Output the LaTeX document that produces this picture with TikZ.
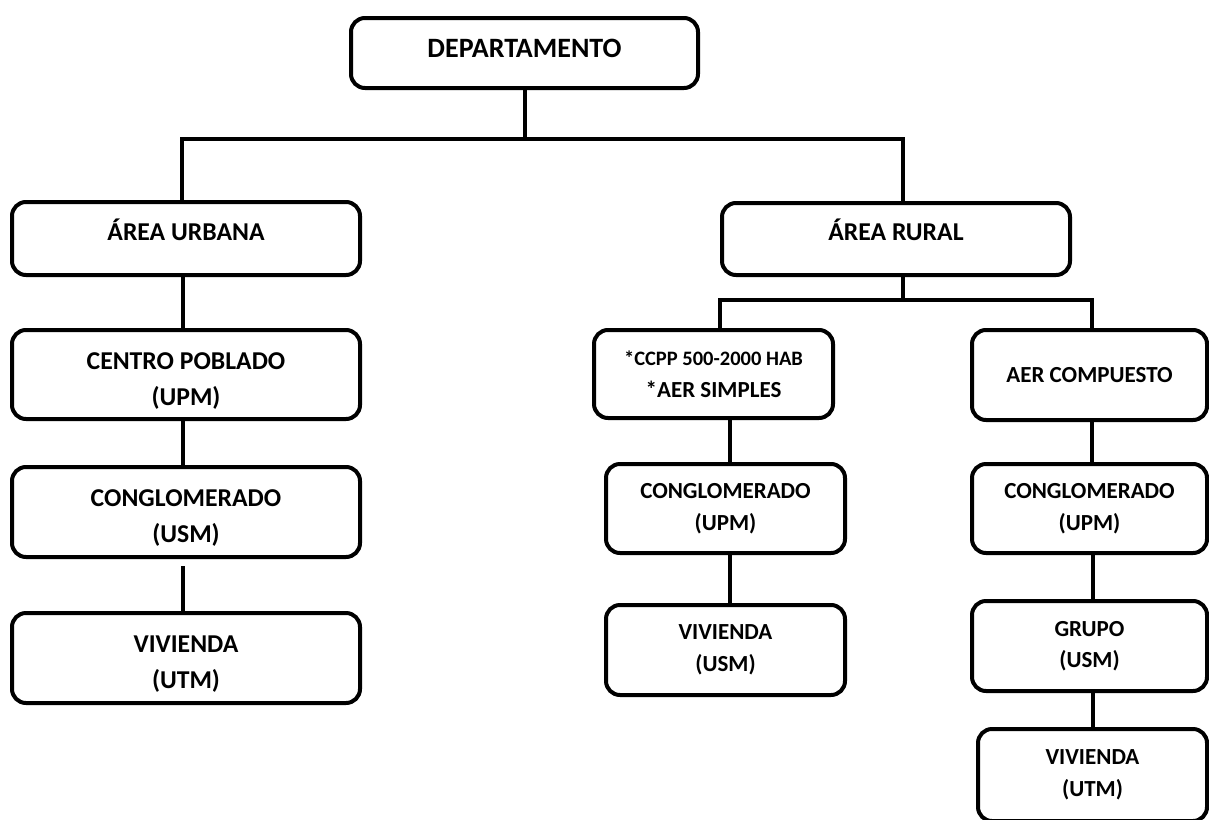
\documentclass[tikz,border=0pt]{standalone}
\usepackage{fontspec}
\setmainfont{Carlito}

\begin{document}
\begin{tikzpicture}[x=1pt,y=-1pt,line width=4pt,
  caja/.style={draw,rounded corners=14pt,inner sep=0pt,align=center},
  grande/.style={font=\bfseries\fontsize{25.7}{36}\selectfont},
  chica/.style={font=\bfseries\fontsize{23}{31.5}\selectfont}]
  \useasboundingbox (0,0) rectangle (1209,819);
  \clip (0,0) rectangle (1209,819);
  \node[caja,minimum width=347pt,minimum height=70pt,font=\bfseries\fontsize{28}{34}\selectfont,text height=18pt,text depth=10pt](dep) at (524.5,53) {DEPARTAMENTO};
  \node[caja,grande,minimum width=348pt,minimum height=73pt,text height=16.5pt,text depth=13pt](urb) at (186,238.5) {ÁREA URBANA};
  \node[caja,grande,minimum width=348pt,minimum height=72pt,text height=16.5pt,text depth=13pt](rur) at (896,239) {ÁREA RURAL};
  % area urbana
  \node[caja,grande,minimum width=348pt,minimum height=89pt](cp) at (186,374.5) {\rule{0pt}{29pt}CENTRO POBLADO\\(UPM)};
  \node[caja,grande,minimum width=348pt,minimum height=90pt](cgU) at (186,512) {\rule{0pt}{29pt}CONGLOMERADO\\(USM)};
  \node[caja,grande,minimum width=348pt,minimum height=90pt](vvU) at (186,658) {\rule{0pt}{29pt}VIVIENDA\\(UTM)};
  % area rural
  \node[caja,chica,minimum width=239pt,minimum height=88pt](ccpp) at (713.5,374) {{\fontsize{20.5}{30}\selectfont *CCPP 500-2000 HAB}\\{}*AER SIMPLES};
  \node[caja,chica,minimum width=239pt,minimum height=89pt](cgM) at (725.5,508.5) {CONGLOMERADO\\(UPM)};
  \node[caja,chica,minimum width=239pt,minimum height=90pt](vvM) at (725.5,650) {VIVIENDA\\(USM)};
  \node[caja,chica,minimum width=235pt,minimum height=90pt](aer) at (1089.5,375) {AER COMPUESTO};
  \node[caja,chica,minimum width=235pt,minimum height=89pt](cgR) at (1089.5,508.5) {CONGLOMERADO\\(UPM)};
  \node[caja,chica,minimum width=235pt,minimum height=90pt](grp) at (1089.5,646) {GRUPO\\(USM)};
  \node[caja,chica,minimum width=229pt,minimum height=92pt](vvR) at (1092.5,775) {VIVIENDA\\(UTM)};
  \draw (dep.south) -- ++(0,49) coordinate (b1);
  \draw ([xshift=-4pt]urb.north) |- (b1) -| ([xshift=7pt]rur.north);
  \draw ([xshift=7pt]rur.south) -- ++(0,23) coordinate (b2);
  \draw ([xshift=6.5pt]ccpp.north) |- (b2) -| ([xshift=2.5pt]aer.north);
  \draw ([xshift=-3.5pt]urb.south) -- ([xshift=-3.5pt]cp.north);
  \draw ([xshift=-3.5pt]cp.south) -- ([xshift=-3.5pt]cgU.north);
  \draw[shorten <=7pt] ([xshift=-3.5pt]cgU.south) -- ([xshift=-3.5pt]vvU.north);
  \draw ([xshift=4.5pt]cgM.north |- ccpp.south) -- ([xshift=4.5pt]cgM.north);
  \draw ([xshift=4.5pt]cgM.south) -- ([xshift=4.5pt]vvM.north);
  \draw ([xshift=2pt]aer.south) -- ([xshift=2pt]cgR.north);
  \draw ([xshift=3.5pt]cgR.south) -- ([xshift=3.5pt]grp.north);
  \draw ([xshift=0.5pt]vvR.north |- grp.south) -- ([xshift=0.5pt]vvR.north);
\end{tikzpicture}
\end{document}
